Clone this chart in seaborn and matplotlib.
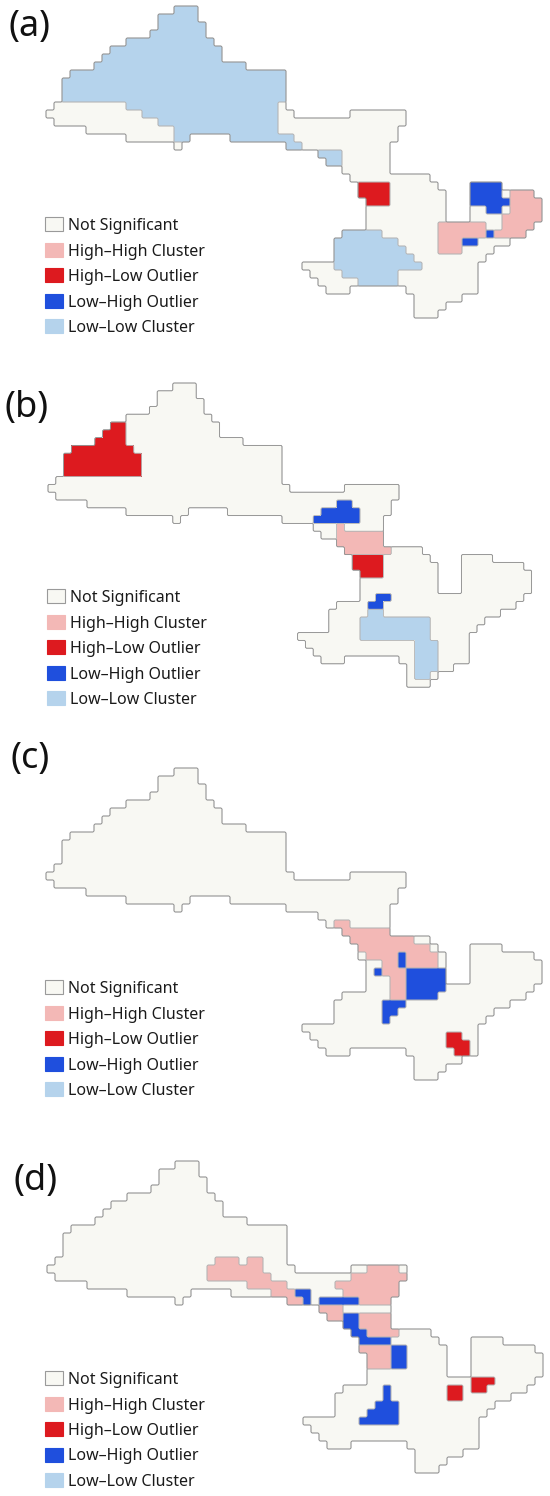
import numpy as np
import pandas as pd
import matplotlib
matplotlib.use("Agg")
import matplotlib.pyplot as plt
from matplotlib.colors import ListedColormap
from matplotlib.patches import Rectangle
import seaborn as sns

# LISA categories, the one-letter code used in the grids below, and colours
CATEGORIES = ["Not Significant", "High–High Cluster", "High–Low Outlier",
              "Low–High Outlier", "Low–Low Cluster"]
CAT_CODES = "opRBl"
CAT_COLORS = ["#f8f8f3", "#f3b8b6", "#dd1a1f", "#1f4fdd", "#b5d3ec"]

PANEL_LABELS = ["(a)", "(b)", "(c)", "(d)"]

# study area on a coarse grid (63 columns), run-length coded per row:
# "16. 3o" = 16 cells outside, then 3 cells inside
N_COLS = 63
BASE_SHAPE = [
    "16. 3o",
    "14. 5o",
    "14. 6o",
    "13. 7o",
    "10. 11o",
    "8. 14o",
    "7. 15o",
    "6. 19o",
    "3. 27o",
    "2. 28o",
    "2. 28o",
    "2. 28o",
    "1. 29o",
    "0. 31o 7. 7o",
    "1. 44o",
    "5. 39o",
    "10. 8o 5. 21o",
    "16. 1o 13. 13o",
    "34. 9o",
    "35. 8o",
    "37. 6o",
    "38. 10o",
    "39. 10o 4. 4o",
    "39. 11o 3. 8o",
    "40. 10o 3. 9o",
    "40. 10o 3. 9o",
    "40. 10o 3. 9o",
    "40. 21o",
    "37. 23o",
    "36. 22o",
    "36. 20o",
    "36. 19o",
    "32. 22o",
    "33. 21o",
    "34. 20o",
    "35. 3o 7. 9o",
    "46. 6o",
    "46. 4o",
    "46. 3o",
]

# significant cells per panel (row -> run-length string, "." keeps Not Significant)
LISA_A = {
    0: "16. 3l", 1: "14. 5l", 2: "14. 6l", 3: "13. 7l", 4: "10. 11l",
    5: "8. 14l", 6: "7. 15l", 7: "6. 19l", 8: "3. 27l", 9: "2. 28l",
    10: "2. 28l", 11: "2. 28l", 12: "10. 19l", 13: "12. 17l", 14: "14. 15l",
    15: "16. 13l", 16: "16. 2l 5. 8l", 17: "30. 2l", 18: "34. 3l", 19: "35. 2l",
    22: "39. 4R 10. 4B", 23: "39. 4R 10. 4B 1. 3p", 24: "40. 3R 10. 5B 4p",
    25: "55. 2B 1. 4p", 26: "57. 5p", 27: "49. 6p 2. 4p",
    28: "37. 5l 7. 6p 1B 4p", 29: "36. 8l 5. 3p 2B", 30: "36. 9l 4. 3p",
    31: "36. 10l", 32: "36. 11l", 33: "37. 7l", 34: "39. 5l",
}

LISA_B = {
    5: "8. 2R", 6: "7. 3R", 7: "6. 4R", 8: "3. 8R", 9: "2. 10R",
    10: "2. 10R", 11: "2. 10R", 15: "37. 2B", 16: "35. 5B", 17: "34. 6B",
    18: "37. 1p", 19: "37. 6p", 20: "37. 6p", 21: "38. 6p",
    22: "39. 4R", 23: "39. 4R", 24: "40. 3R", 27: "42. 2B", 28: "41. 2B",
    29: "41. 2l", 30: "40. 9l", 31: "40. 9l", 32: "40. 9l",
    33: "47. 3l", 34: "47. 3l", 35: "47. 3l", 36: "47. 3l", 37: "47. 2l",
}

LISA_C = {
    19: "36. 2p", 20: "37. 6p", 21: "38. 8p", 22: "39. 9p",
    23: "40. 4p 1B 4p", 24: "42. 2p 1B 4p", 25: "41. 1B 3p 5B",
    26: "43. 2p 5B", 27: "43. 2p 5B", 28: "43. 2p 4B",
    29: "42. 3B", 30: "42. 2B", 31: "42. 1B",
    33: "50. 2R", 34: "50. 3R", 35: "51. 2R",
}

LISA_D = {
    12: "21. 3p 1. 2p", 13: "20. 7p 13. 4p", 14: "20. 8p 10. 7p",
    15: "25. 5p 6. 8p", 16: "28. 3p 2B 4. 7p", 17: "30. 2p 1B 1. 5B 4p",
    18: "34. 3p", 19: "35. 2p 2B 4p", 20: "37. 2B 4p", 21: "38. 2B 4p",
    22: "39. 4B", 23: "39. 4p 2B", 24: "40. 3p 2B", 25: "40. 3p 2B",
    27: "53. 3R", 28: "42. 1B 7. 2R 1. 2R", 29: "42. 1B 7. 2R",
    30: "41. 3B", 31: "40. 4B", 32: "39. 5B",
}

# layout in pixels of the 550 x 1496 figure
W, H = 550, 1496
CELL = 8
MAP_ORIGIN = [(46, 6, 1.0), (48, 383, 0.975), (46, 768, 1.0), (47, 1161, 1.0)]
LABEL_POS = [(29, 27), (27, 408), (30, 759), (36, 1181)]
LEGEND_POS = [(45, 224), (47, 596), (45, 987), (45, 1378)]
LEGEND_STEP = 25.5
UP = 4  # sub-cells per cell for the border lines


def decode(rle):
    row = ""
    for tok in rle.split():
        row += tok[-1] * int(tok[:-1])
    return row.ljust(N_COLS, ".")[:N_COLS]


def lisa_grid(overlay):
    rows = []
    for i, rle in enumerate(BASE_SHAPE):
        base = decode(rle)
        top = decode(overlay.get(i, ""))
        rows.append([t if (b != "." and t != ".") else b for b, t in zip(base, top)])
    return np.array([[CAT_CODES.find(c) for c in r] for r in rows])


def fine(mask):
    # pad by one cell and split every cell so the contour hugs the cell edges
    return np.kron(np.pad(mask.astype(float), 1), np.ones((UP, UP)))


sns.set_theme(style="white")
plt.rcParams["font.family"] = ["Noto Sans", "DejaVu Sans"]

fig = plt.figure(figsize=(W / 100, H / 100), dpi=100)
cmap = ListedColormap(CAT_COLORS)
n_rows = len(BASE_SHAPE)
xs = -1 + (np.arange((N_COLS + 2) * UP) + 0.5) / UP
ys = -1 + (np.arange((n_rows + 2) * UP) + 0.5) / UP

for overlay, (x0, y0, s) in zip([LISA_A, LISA_B, LISA_C, LISA_D], MAP_ORIGIN):
    codes = lisa_grid(overlay)
    c = CELL * s
    left, top = x0 - c, y0 - c
    ax = fig.add_axes([left / W, 1 - (top + (n_rows + 2) * c) / H,
                       (N_COLS + 2) * c / W, (n_rows + 2) * c / H])
    sns.heatmap(pd.DataFrame(codes), mask=codes < 0, cmap=cmap, vmin=-0.5, vmax=4.5,
                cbar=False, xticklabels=False, yticklabels=False, ax=ax)
    # borders between classes, then the outline of the study area
    for k in range(len(CAT_CODES)):
        if (codes == k).any():
            ax.contour(xs, ys, fine(codes == k), levels=[0.5],
                       colors="#b4b4b4", linewidths=0.45)
    ax.contour(xs, ys, fine(codes >= 0), levels=[0.5],
               colors="#8f8f8f", linewidths=0.6)
    ax.set_xlim(-1, N_COLS + 1)
    ax.set_ylim(n_rows + 1, -1)
    ax.axis("off")

# panel letters and legends
over = fig.add_axes([0, 0, 1, 1])
over.set_xlim(0, W)
over.set_ylim(H, 0)
over.axis("off")
for label, (lx, ly) in zip(PANEL_LABELS, LABEL_POS):
    over.text(lx, ly, label, fontsize=26, ha="center", va="center", color="#111111")
for gx, gy in LEGEND_POS:
    for j, (name, color) in enumerate(zip(CATEGORIES, CAT_COLORS)):
        yc = gy + j * LEGEND_STEP
        edge = "#9a9a9a" if j == 0 else color
        over.add_patch(Rectangle((gx, yc - 7), 18, 14, facecolor=color,
                                 edgecolor=edge, linewidth=0.8))
        over.text(gx + 23, yc + 6, name, fontsize=11.5, ha="left", va="baseline",
                  color="#1a1a1a")

fig.savefig("out.png", dpi=100)
